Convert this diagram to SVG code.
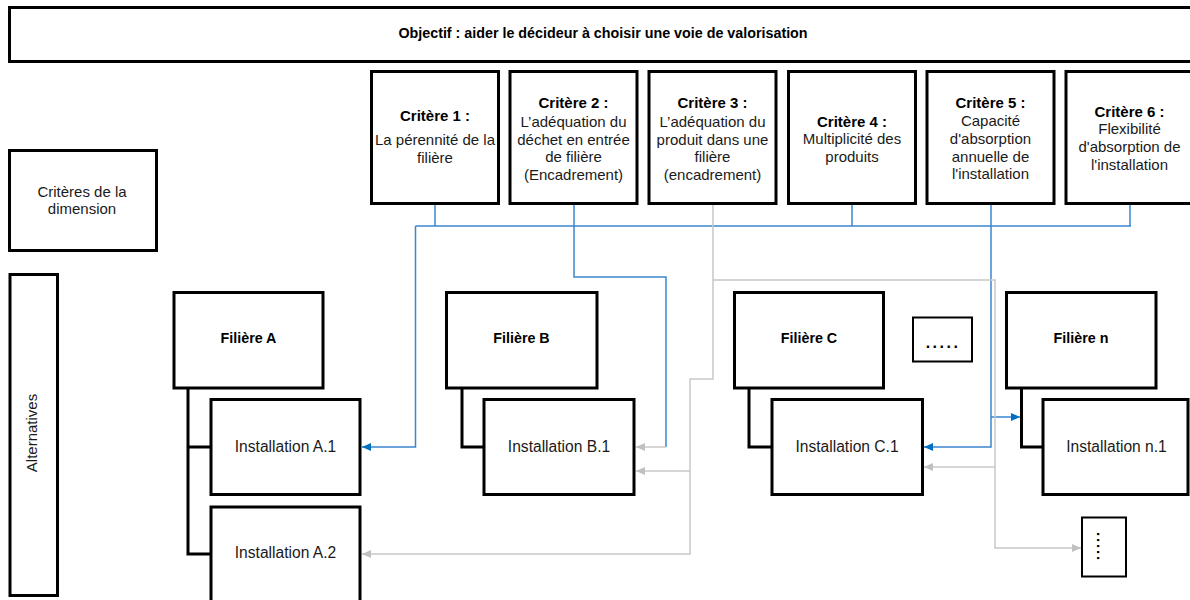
<svg xmlns="http://www.w3.org/2000/svg" width="1190" height="600" viewBox="0 0 1190 600">
<defs>
<style>
.box{fill:#fff;stroke:#000;stroke-width:3}
.thin{fill:#fff;stroke:#000;stroke-width:2}
.trunk{fill:none;stroke:#000;stroke-width:3}
text{font-family:"Liberation Sans",Arial,sans-serif;fill:#1a1a1a;font-size:15px;text-anchor:middle}
.b{font-weight:bold;fill:#000}
.blue{fill:none;stroke:#3a86cf;stroke-width:1.5}
.gray{fill:none;stroke:#c8c8c8;stroke-width:1.5}
</style>
<marker id="ab" markerUnits="userSpaceOnUse" markerWidth="10" markerHeight="9" refX="9" refY="4" orient="auto"><path d="M0,0 L9,4 L0,8 z" fill="#0070c0"/></marker>
<marker id="ag" markerUnits="userSpaceOnUse" markerWidth="10" markerHeight="9" refX="9" refY="4" orient="auto"><path d="M0,0 L9,4 L0,8 z" fill="#c0c0c0"/></marker>
</defs>
<rect width="1190" height="600" fill="#fff"/>

<g id="objectif">
<rect class="box" x="9.5" y="7.5" width="1190" height="54"/>
<text class="b" x="603" y="38" style="font-size:14.3px">Objectif : aider le décideur à choisir une voie de valorisation</text>
</g>

<g id="criteres-dimension">
<rect class="box" x="9.5" y="150.5" width="147" height="100"/>
<text x="82" y="197">Critères de la</text>
<text x="82" y="214">dimension</text>
</g>

<g id="alternatives">
<rect class="box" x="10" y="274.5" width="47.5" height="321"/>
<text transform="translate(32,433) rotate(-90)" x="0" y="5">Alternatives</text>
</g>

<g id="critere1">
<rect class="box" x="371.5" y="71.5" width="127" height="132"/>
<text class="b" x="435" y="121">Critère 1 :</text>
<text x="435" y="145">La pérennité de la</text>
<text x="435" y="162.5">filière</text>
</g>
<g id="critere2">
<rect class="box" x="510" y="71.5" width="127" height="132"/>
<text class="b" x="573.5" y="108">Critère 2 :</text>
<text x="573.5" y="127">L’adéquation du</text>
<text x="573.5" y="144.5">déchet en entrée</text>
<text x="573.5" y="162">de filière</text>
<text x="573.5" y="179.5">(Encadrement)</text>
</g>
<g id="critere3">
<rect class="box" x="649" y="71.5" width="127" height="132"/>
<text class="b" x="712.5" y="108">Critère 3 :</text>
<text x="712.5" y="127">L’adéquation du</text>
<text x="712.5" y="144.5">produit dans une</text>
<text x="712.5" y="162">filière</text>
<text x="712.5" y="179.5">(encadrement)</text>
</g>
<g id="critere4">
<rect class="box" x="788.5" y="71.5" width="127" height="132"/>
<text class="b" x="852" y="126.5">Critère 4 :</text>
<text x="852" y="143.5">Multiplicité des</text>
<text x="852" y="161.5">produits</text>
</g>
<g id="critere5">
<rect class="box" x="927" y="71.5" width="127" height="132"/>
<text class="b" x="990.5" y="108">Critère 5 :</text>
<text x="990.5" y="126">Capacité</text>
<text x="990.5" y="144">d'absorption</text>
<text x="990.5" y="161.5">annuelle de</text>
<text x="990.5" y="178.5">l'installation</text>
</g>
<g id="critere6">
<rect class="box" x="1066" y="71.5" width="127" height="132"/>
<text class="b" x="1129.5" y="116.5">Critère 6 :</text>
<text x="1129.5" y="134">Flexibilité</text>
<text x="1129.5" y="152">d'absorption de</text>
<text x="1129.5" y="169.5">l'installation</text>
</g>

<g id="trunks">
<path class="trunk" d="M188,388 V554 H211 M188,447 H211"/>
<path class="trunk" d="M462,388 V447 H484"/>
<path class="trunk" d="M749,388 V447 H772"/>
<path class="trunk" d="M1021.5,388 V447 H1043"/>
</g>

<g id="filiereA">
<rect class="box" x="174" y="292.5" width="149" height="95.5"/>
<text class="b" x="248.5" y="343" style="font-size:14.3px">Filière A</text>
</g>
<g id="installationA1">
<rect class="box" x="211" y="399.5" width="149" height="95"/>
<text x="285.5" y="451.5" style="font-size:15.6px">Installation A.1</text>
</g>
<g id="installationA2">
<rect class="box" x="211" y="507" width="149" height="100"/>
<text x="285.5" y="557.5" style="font-size:15.6px">Installation A.2</text>
</g>

<g id="filiereB">
<rect class="box" x="446.5" y="292.5" width="150.5" height="95.5"/>
<text class="b" x="521.5" y="343" style="font-size:14.3px">Filière B</text>
</g>
<g id="installationB1">
<rect class="box" x="484" y="399.5" width="150" height="95"/>
<text x="559" y="451.5" style="font-size:15.6px">Installation B.1</text>
</g>

<g id="filiereC">
<rect class="box" x="734.5" y="292.5" width="149" height="95.5"/>
<text class="b" x="809" y="343" style="font-size:14.3px">Filière C</text>
</g>
<g id="etc1">
<rect class="thin" x="913" y="317.5" width="59" height="44"/>
<text class="b" x="943" y="348" style="font-size:16px;letter-spacing:2.5px">.....</text>
</g>
<g id="installationC1">
<rect class="box" x="772" y="399.5" width="150.5" height="95"/>
<text x="847" y="451.5" style="font-size:15.6px">Installation C.1</text>
</g>

<g id="filiereN">
<rect class="box" x="1006.5" y="292.5" width="149.5" height="95.5"/>
<text class="b" x="1081" y="343" style="font-size:14.3px">Filière n</text>
</g>
<g id="installationN1">
<rect class="box" x="1043" y="399.5" width="145" height="95"/>
<text x="1116.5" y="451.5" style="font-size:15.6px">Installation n.1</text>
</g>
<g id="etc2">
<rect class="thin" x="1082" y="517.5" width="44" height="59"/>
<text class="b" transform="translate(1097,547) rotate(90)" x="0" y="0" style="font-size:15px;letter-spacing:1.8px">.....</text>
</g>

<g id="connectors">
<path class="blue" d="M415.5,226 H1131"/>
<path class="blue" d="M435,205 V226"/>
<path class="blue" d="M852,205 V226"/>
<path class="blue" d="M1130,205 V226"/>
<path class="blue" d="M415.5,226 V447 H362" marker-end="url(#ab)"/>
<path class="blue" d="M574,205 V277 H666 V447"/>
<path class="gray" d="M666,447 H636" marker-end="url(#ag)"/>
<path class="blue" d="M991,205 V447 H924" marker-end="url(#ab)"/>
<path class="blue" d="M991,417 H1020" marker-end="url(#ab)"/>
<path class="gray" d="M713,205 V379 H690 V554 H362" marker-end="url(#ag)"/>
<path class="gray" d="M690,471 H636" marker-end="url(#ag)"/>
<path class="gray" d="M713,280 H995 V548 H1081" marker-end="url(#ag)"/>
<path class="gray" d="M995,467 H924" marker-end="url(#ag)"/>
</g>
</svg>
